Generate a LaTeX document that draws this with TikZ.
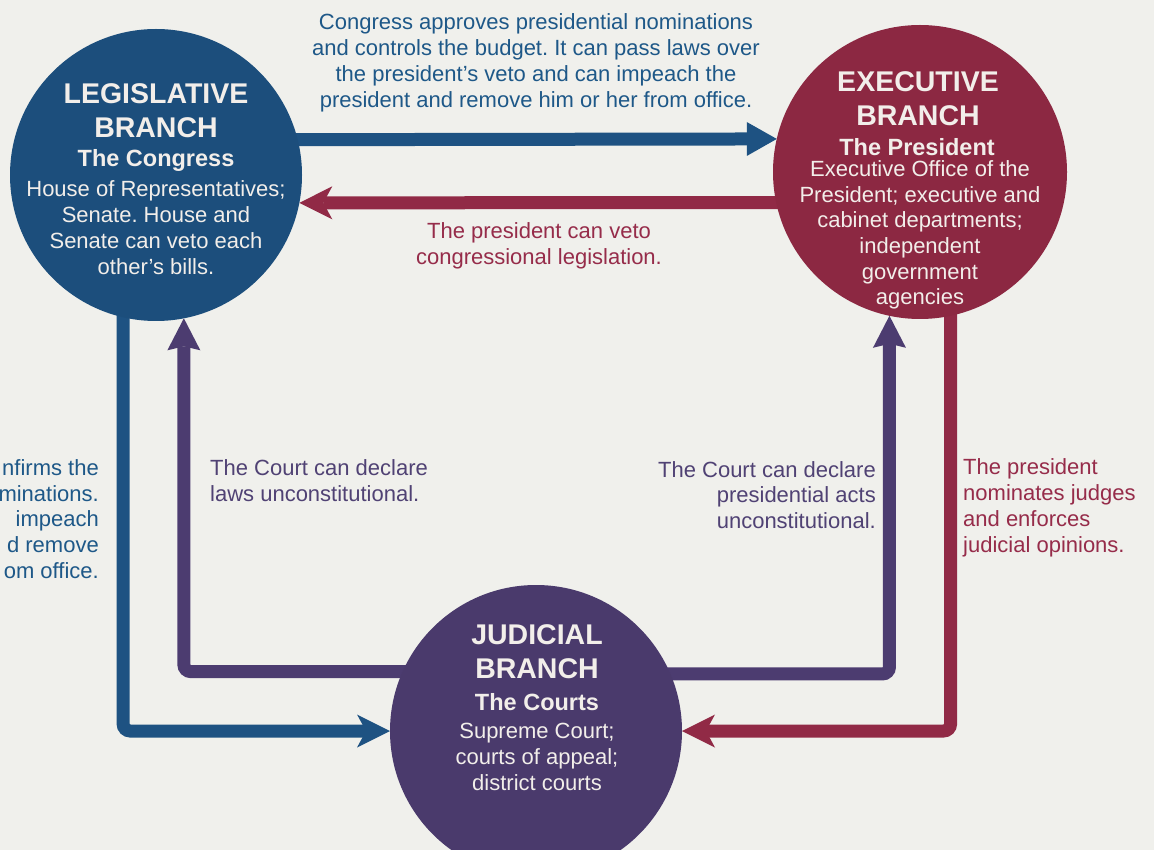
\documentclass[tikz,border=0pt]{standalone}
\usepackage{fontspec}
\setmainfont{Liberation Sans}
\usetikzlibrary{arrows.meta}
\definecolor{bgcol}{RGB}{240,240,236}
\definecolor{legblue}{RGB}{28,78,124}
\definecolor{exred}{RGB}{140,40,66}
\definecolor{judpurple}{RGB}{74,58,108}
\definecolor{arrblue}{RGB}{30,82,130}
\definecolor{arrred}{RGB}{145,42,70}
\definecolor{arrpurple}{RGB}{76,60,112}
\definecolor{txtblue}{RGB}{30,88,136}
\definecolor{txtred}{RGB}{150,44,74}
\definecolor{txtpurple}{RGB}{80,66,116}
\definecolor{circtext}{RGB}{242,238,234}
\pgfdeclarelayer{back}
\pgfdeclarelayer{mid}
\pgfsetlayers{back,mid,main}
\frenchspacing
\begin{document}
\begin{tikzpicture}[x=1pt,y=-1pt,
  branch/.style={circle, inner sep=0pt, outer sep=0pt},
  ctext/.style={text=circtext, align=center, inner sep=0pt},
  ttl/.style={ctext, font=\fontsize{28.5}{34}\selectfont\bfseries},
  subt/.style={ctext, font=\fontsize{23.5}{28}\selectfont\bfseries},
  body/.style={ctext, font=\fontsize{22}{26}\selectfont},
  conn/.style={line width=13pt, rounded corners=7pt, shorten <=-6pt},
  lbl/.style={inner sep=0pt, font=\fontsize{22}{25.8}\selectfont},
  tipA/.style={-{Triangle[length=30pt,width=34pt,line width=0pt]}},
  tipB/.style={-{Stealth[length=33pt,width=33pt,inset=9pt,line width=0pt]}},
  tipC/.style={-{Stealth[length=32pt,width=33pt,inset=4pt,line width=0pt]}}
  ]
\useasboundingbox (0,0) rectangle (1154,850);
\clip (0,0) rectangle (1154,850);
\begin{pgfonlayer}{back}
\fill[bgcol] (0,0) rectangle (1154,850);
\end{pgfonlayer}

% circles
\node[branch, fill=legblue, minimum size=292pt] (leg) at (156,175) {};
\node[branch, fill=exred, minimum size=294pt] (exec) at (920,172) {};
\node[branch, fill=judpurple, minimum size=292pt] (jud) at (536,731) {};

% circle texts
\node[ttl] (legt) at (156,110.5) {LEGISLATIVE\\BRANCH};
\node[subt] (legs) at (156,160) {The Congress};
\node[body] (legb) at (156,228) {House of Representatives;\\Senate. House and\\Senate can veto each\\other’s bills.};

\node[ttl] (exect) at (918,98.5) {EXECUTIVE\\BRANCH};
\node[subt] (execs) at (917,147) {The President};
\node[body, font=\fontsize{22}{25.6}\selectfont] (execb) at (920,235) {Executive Office of the\\President; executive and\\cabinet departments;\\independent\\government\\agencies};

\node[ttl] (judt) at (537,651.5) {JUDICIAL\\BRANCH};
\node[subt] (juds) at (537,702) {The Courts};
\node[body] (judb) at (537,757) {Supreme Court;\\courts of appeal;\\district courts};

% connectors
\begin{pgfonlayer}{mid}
\draw[conn, draw=arrblue, tipA] (leg.14) -- (exec.167);
\draw[conn, draw=arrred, tipB] (exec.192) -- (leg.349);
\draw[conn, draw=arrblue, tipB] (leg.257) |- (jud.west);
\draw[conn, draw=arrpurple, tipC] (jud.156.6) -| (leg.281.5);
\draw[conn, draw=arrpurple, tipC] (jud.23.4) -| (exec.258.2);
\draw[conn, draw=arrred, tipB] (exec.282.2) |- (jud.east);
\end{pgfonlayer}

% labels
\node[lbl, text=txtblue, align=center] (t1) at (536,63) {Congress approves presidential nominations\\and controls the budget. It can pass laws over\\the president’s veto and can impeach the\\president and remove him or her from office.};
\node[lbl, text=txtred, align=center] (t2) at (539,246) {The president can veto\\congressional legislation.};
\node[lbl, text=txtpurple, align=left, anchor=west] (t3) at (210,481) {The Court can declare\\laws unconstitutional.};
\node[lbl, text=txtpurple, align=right, anchor=east] (t4) at (876,495) {The Court can declare\\presidential acts\\unconstitutional.};
\node[lbl, text=txtred, align=left, anchor=west] (t5) at (963,508) {The president\\nominates judges\\and enforces\\judicial opinions.};
\node[lbl, text=txtblue, align=right, anchor=east] (t6) at (99,519) {nfirms the\\minations.\\impeach\\d remove\\om office.};
\end{tikzpicture}
\end{document}
